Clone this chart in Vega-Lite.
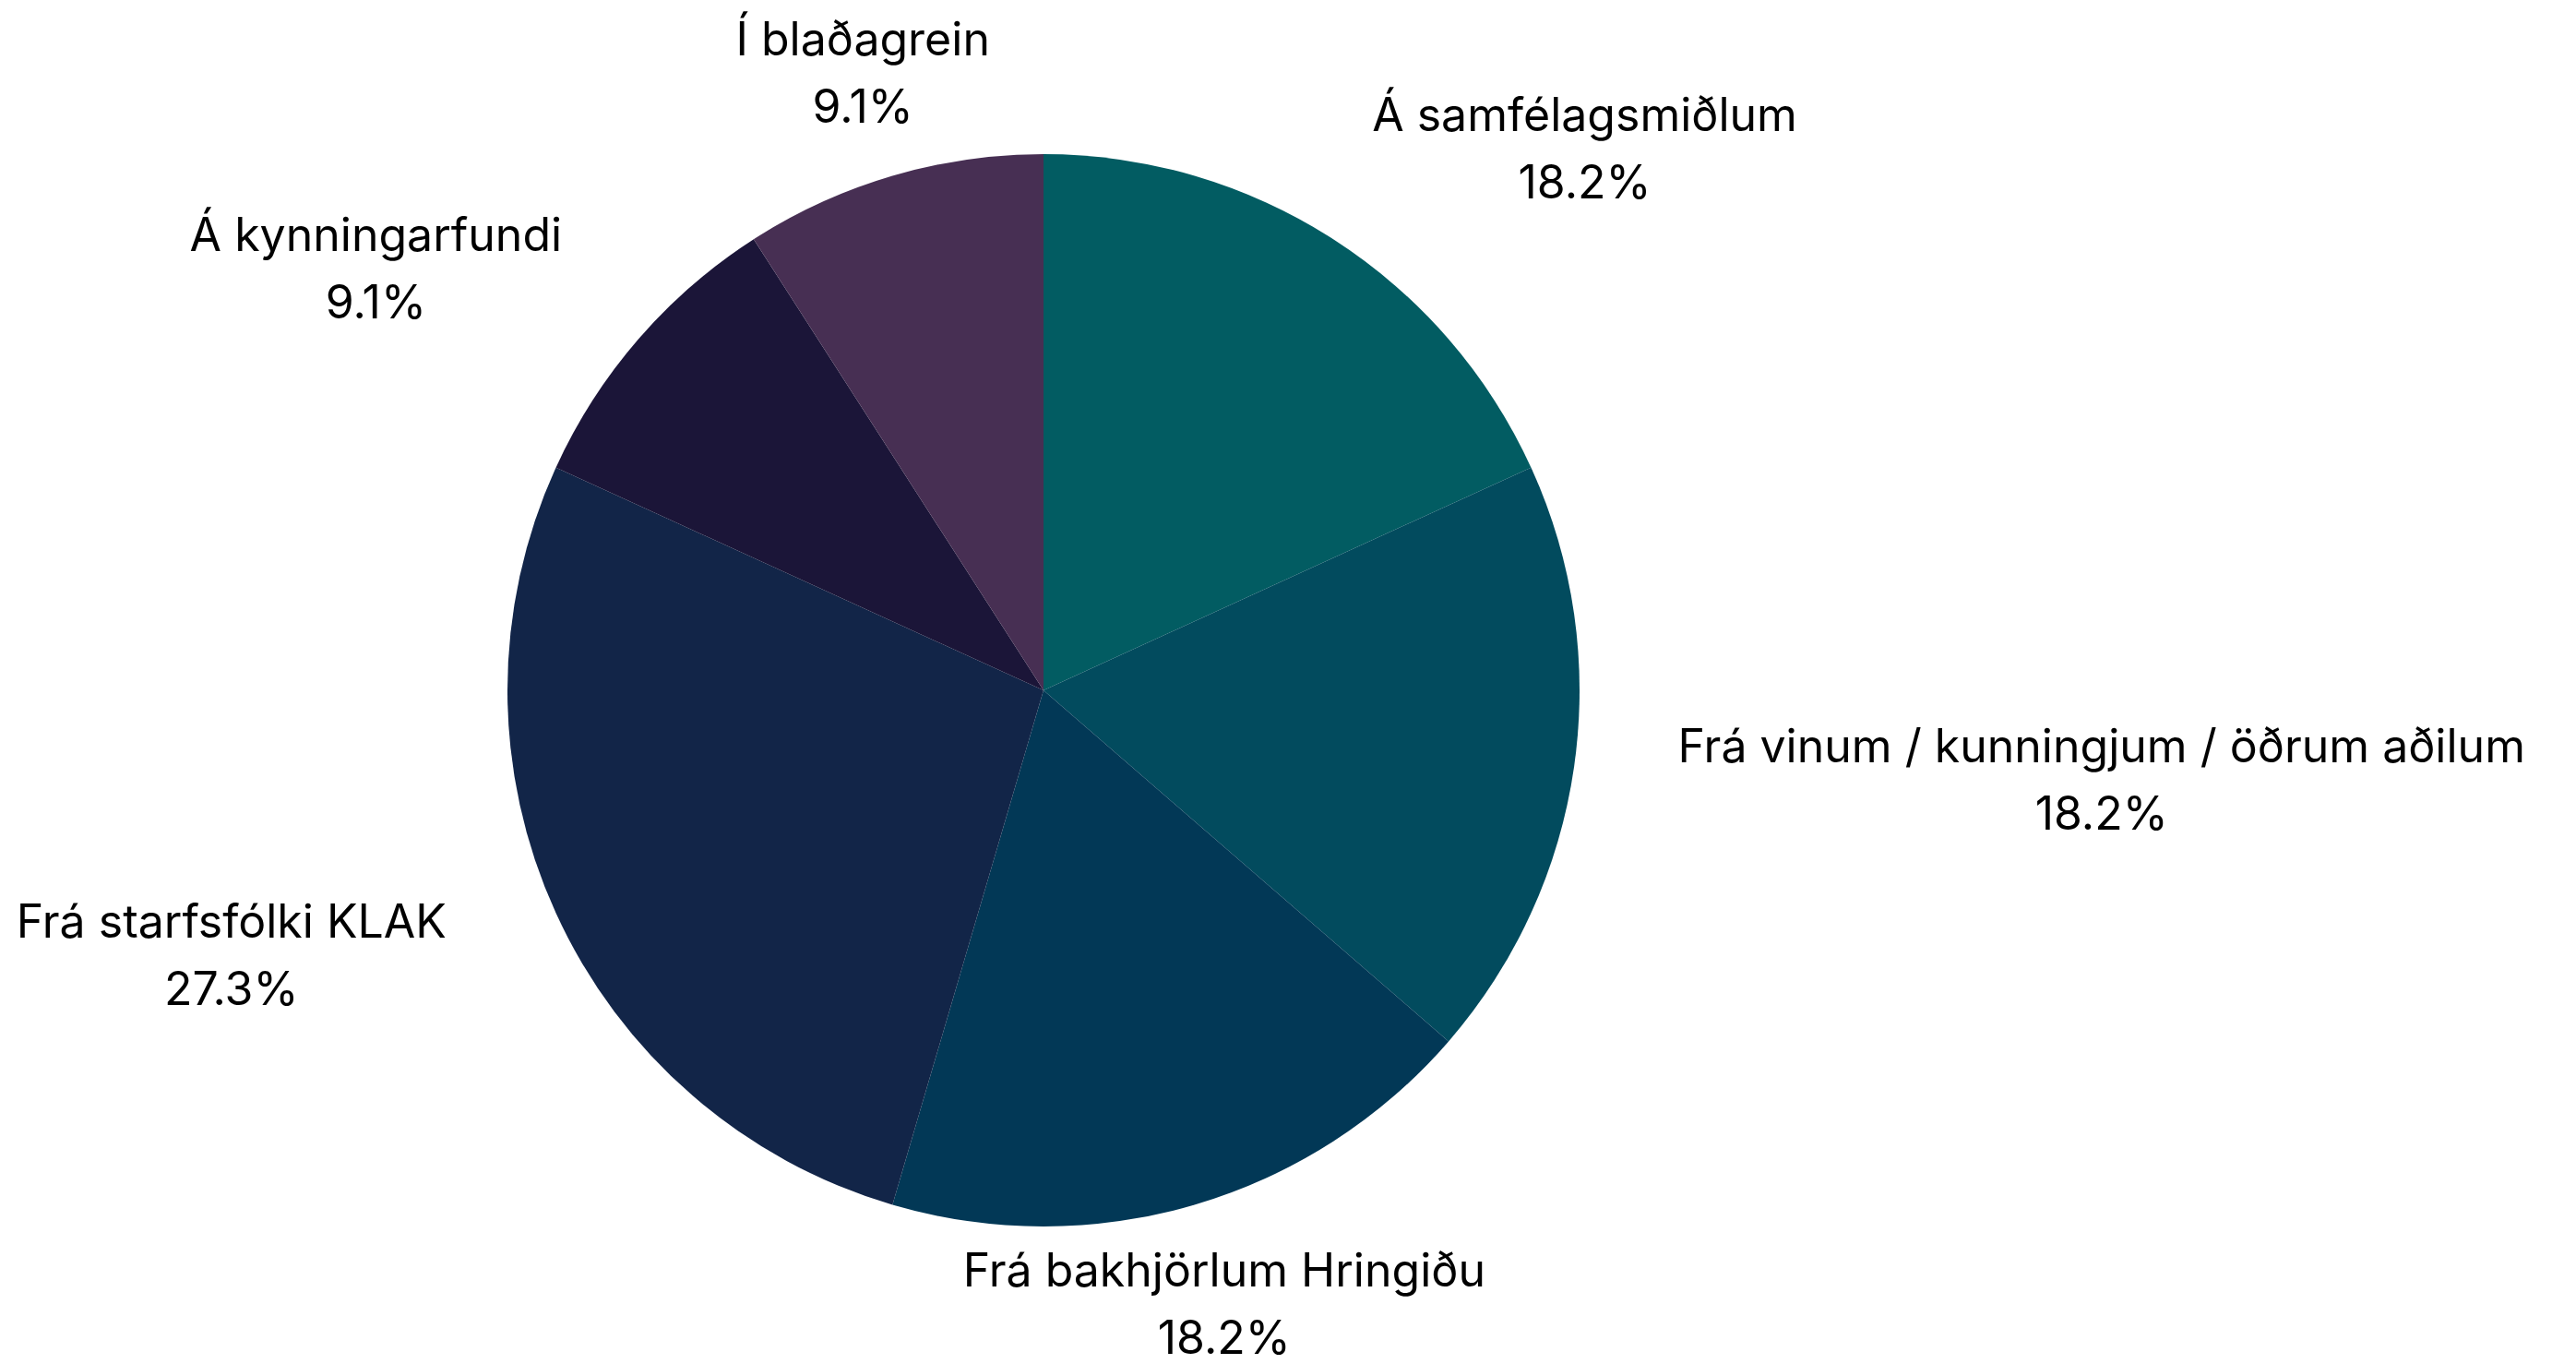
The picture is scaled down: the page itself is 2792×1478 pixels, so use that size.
{
  "$schema": "https://vega.github.io/schema/vega-lite/v6.json",
  "autosize": {"type": "none"},
  "width": 2262,
  "height": 1460,
  "padding": {"left": 0, "top": 18, "right": 530, "bottom": 0},
  "background": "#ffffff",
  "config": {"view": {"stroke": null}},
  "data": {
    "values": [
      {"order": 1, "name": "Á samfélagsmiðlum", "value": 2},
      {"order": 2, "name": "Frá vinum / kunningjum / öðrum aðilum", "value": 2},
      {"order": 3, "name": "Frá bakhjörlum Hringiðu", "value": 2},
      {"order": 4, "name": "Frá starfsfólki KLAK", "value": 3},
      {"order": 5, "name": "Á kynningarfundi", "value": 1},
      {"order": 6, "name": "Í blaðagrein", "value": 1}
    ]
  },
  "transform": [
    {"joinaggregate": [{"op": "sum", "field": "value", "as": "total"}]},
    {"calculate": "datum.name + '\\n' + format(datum.value / datum.total, '.1%')", "as": "label"}
  ],
  "encoding": {
    "theta": {"field": "value", "type": "quantitative", "stack": true},
    "order": {"field": "order", "type": "quantitative"}
  },
  "layer": [
    {
      "mark": {"type": "arc", "outerRadius": 581, "strokeWidth": 0},
      "encoding": {
        "color": {
          "field": "name",
          "type": "nominal",
          "scale": {
            "domain": ["Á samfélagsmiðlum", "Frá vinum / kunningjum / öðrum aðilum", "Frá bakhjörlum Hringiðu", "Frá starfsfólki KLAK", "Á kynningarfundi", "Í blaðagrein"],
            "range": ["#025C62", "#024B5E", "#023856", "#122548", "#1B1538", "#472F53"]
          },
          "legend": null
        }
      }
    },
    {
      "mark": {
        "type": "text",
        "radius": 695,
        "font": "Inter",
        "fontSize": 50,
        "lineHeight": 73,
        "lineBreak": "\n",
        "color": "#000000",
        "baseline": "middle",
        "align": "center",
        "dx": {"expr": "sin(PI * (datum.value_start + datum.value_end) / datum.total) > 0.5 ? length(datum.name) * 12.4 : (sin(PI * (datum.value_start + datum.value_end) / datum.total) < -0.5 ? -length(datum.name) * 12.4 : 0)"},
        "dy": -36
      },
      "encoding": {
        "text": {"field": "label", "type": "nominal"}
      }
    }
  ]
}
